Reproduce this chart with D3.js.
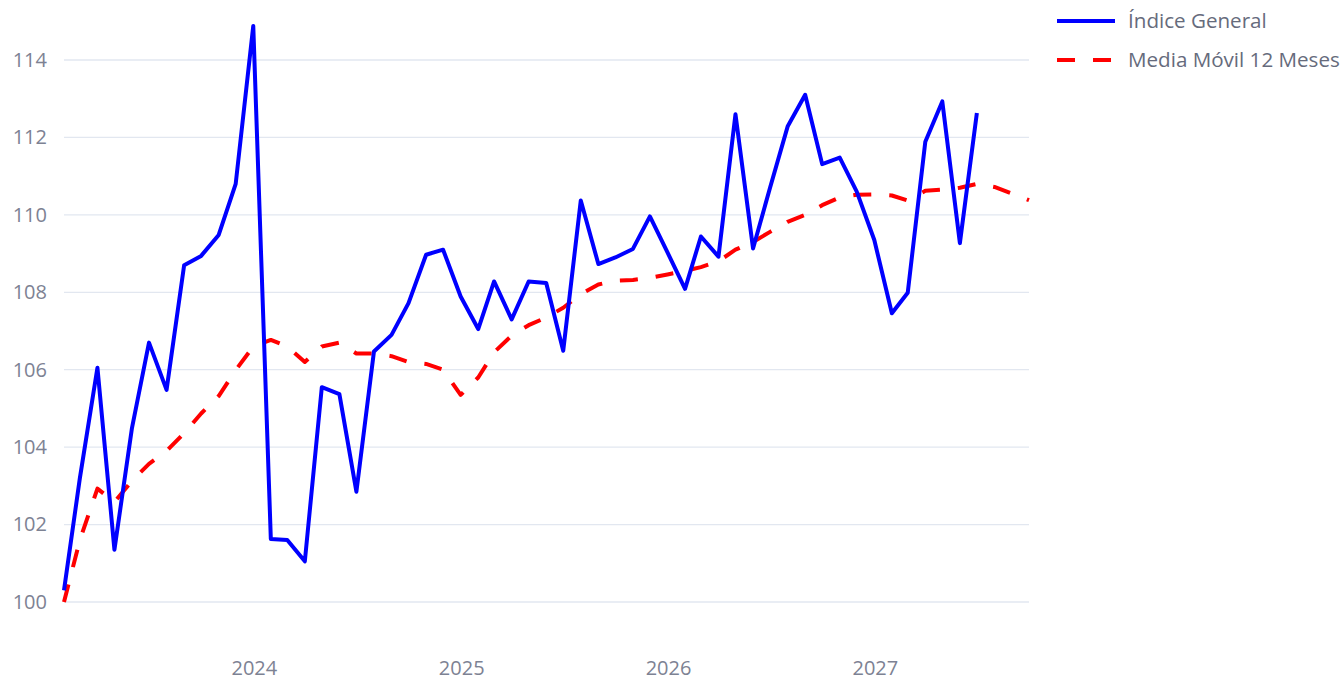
<!DOCTYPE html>
<html>
<head>
<meta charset="utf-8">
<script src="https://cdn.jsdelivr.net/npm/d3@7"></script>
<style>
  body { margin: 0; background: #fff; }
  svg { display: block; font-family: "Open Sans", "Noto Sans", sans-serif; }
</style>
</head>
<body>
<svg id="chart"></svg>
<script>
// monthly index, month-end dates from Jan 2023
var startMonth = "2023-01";
var seriesNames = ["Índice General", "Media Móvil 12 Meses"];

var indiceGeneral = [
  100.3, 103.2, 106.05, 101.35, 104.5, 106.7, 105.48, 108.7, 108.94, 109.48, 110.8, 114.88,
  101.63, 101.6, 101.05, 105.55, 105.37, 102.85, 106.47, 106.9, 107.72, 108.97, 109.1, 107.89,
  107.05, 108.28, 107.3, 108.28, 108.24, 106.49, 110.37, 108.73, 108.9, 109.12, 109.96, 109.03,
  108.09, 109.44, 108.92, 112.6, 109.13, 110.7, 112.28, 113.1, 111.31, 111.48, 110.6, 109.35,
  107.46, 107.99, 111.89, 112.93, 109.27, 112.63
];

var mediaMovil = [
  100.0, 101.6, 102.93, 102.58, 103.13, 103.57, 103.9, 104.36, 104.87, 105.32, 105.99, 106.6,
  106.77, 106.6, 106.2, 106.6, 106.7, 106.42, 106.42, 106.35, 106.2, 106.15, 106.0, 105.35,
  105.8, 106.45, 106.88, 107.15, 107.35, 107.6, 107.95, 108.2, 108.3, 108.32, 108.37, 108.46,
  108.55, 108.65, 108.8, 109.1, 109.3, 109.56, 109.82, 110.0, 110.25, 110.45, 110.52, 110.53,
  110.5, 110.37, 110.62, 110.65, 110.7, 110.8, 110.72, 110.55, 110.38
];

var yTicks = [100, 102, 104, 106, 108, 110, 112, 114];
var xTicks = ["2024-01-01", "2025-01-01", "2026-01-01", "2027-01-01"];

document.addEventListener("DOMContentLoaded", function() {
  var width = 1344, height = 680;
  var svg = d3.select("#chart").attr("width", width).attr("height", height);

  // last day of each month
  var first = d3.utcParse("%Y-%m")(startMonth);
  function monthEnd(i) {
    return d3.utcDay.offset(d3.utcMonth.offset(first, i + 1), -1);
  }

  var blueData = indiceGeneral.map(function(v, i) { return { date: monthEnd(i), value: v }; });
  var redData = mediaMovil.map(function(v, i) { return { date: monthEnd(i), value: v }; });

  var x = d3.scaleUtc()
    .domain([redData[0].date, redData[redData.length - 1].date])
    .range([64, 1029]);

  var y = d3.scaleLinear()
    .domain([100, 114])
    .range([602, 60]);

  // horizontal grid
  svg.append("g")
    .selectAll("line")
    .data(yTicks)
    .enter().append("line")
    .attr("x1", 64)
    .attr("x2", 1029)
    .attr("y1", function(d) { return y(d); })
    .attr("y2", function(d) { return y(d); })
    .attr("stroke", "#e2e7f0")
    .attr("stroke-width", 1.3);

  var yAxis = svg.append("g")
    .attr("transform", "translate(64,0)")
    .call(d3.axisLeft(y).tickValues(yTicks).tickSize(0).tickPadding(17));
  yAxis.select(".domain").remove();
  yAxis.selectAll("text")
    .attr("font-size", 20)
    .attr("font-family", "Open Sans, sans-serif")
    .attr("fill", "#7d8293");

  var parseDay = d3.utcParse("%Y-%m-%d");
  var xAxis = svg.append("g")
    .attr("transform", "translate(0,645)")
    .call(d3.axisBottom(x).tickValues(xTicks.map(parseDay)).tickFormat(d3.utcFormat("%Y")).tickSize(0).tickPadding(16));
  xAxis.select(".domain").remove();
  xAxis.selectAll("text")
    .attr("font-size", 20)
    .attr("font-family", "Open Sans, sans-serif")
    .attr("fill", "#7d8293");

  var line = d3.line()
    .x(function(d) { return x(d.date); })
    .y(function(d) { return y(d.value); });

  svg.append("path")
    .datum(redData)
    .attr("d", line)
    .attr("fill", "none")
    .attr("stroke", "#ff0000")
    .attr("stroke-width", 4)
    .attr("stroke-dasharray", "18,18")
    .attr("stroke-linejoin", "round");

  svg.append("path")
    .datum(blueData)
    .attr("d", line)
    .attr("fill", "none")
    .attr("stroke", "#0000ff")
    .attr("stroke-width", 4)
    .attr("stroke-linejoin", "round");

  // legend
  var legend = svg.append("g").attr("transform", "translate(1057,21)");
  var colors = ["#0000ff", "#ff0000"];
  var dashes = [null, "18,18"];
  seriesNames.forEach(function(name, i) {
    var item = legend.append("g").attr("transform", "translate(0," + (i * 39) + ")");
    item.append("line")
      .attr("x1", 0).attr("x2", 58)
      .attr("y1", 0).attr("y2", 0)
      .attr("stroke", colors[i])
      .attr("stroke-width", 4)
      .attr("stroke-dasharray", dashes[i]);
    item.append("text")
      .attr("x", 71)
      .attr("y", 0)
      .attr("dy", "0.35em")
      .attr("font-size", 20.6)
      .attr("fill", "#666b7c")
      .text(name);
  });
});
</script>
</body>
</html>
